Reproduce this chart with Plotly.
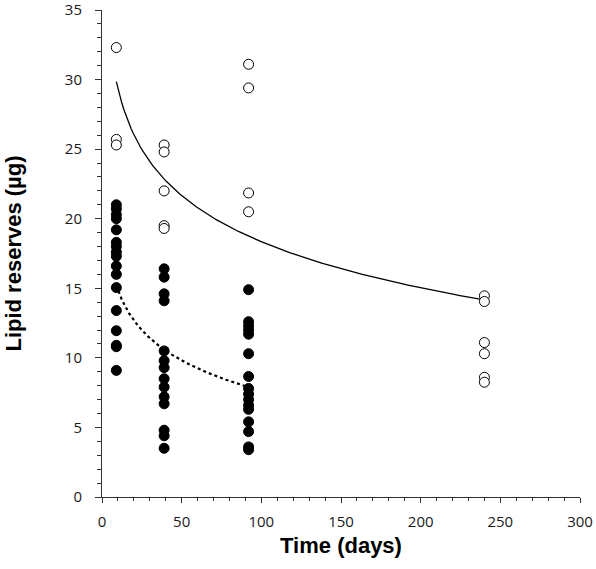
import numpy as np
import plotly.graph_objects as go

# Values
open_9 = [32.3, 25.7, 25.3]
open_39 = [25.3, 24.8, 22.0, 19.5, 19.3]
open_92 = [31.1, 29.4, 21.85, 20.5]
open_240 = [14.46, 14.05, 11.1, 10.3, 8.6, 8.25]

filled_9 = [21.0, 20.7, 20.3, 20.0, 19.2, 18.3, 18.0, 17.6, 17.3, 16.6, 16.0,
            15.05, 13.4, 11.95, 10.9, 10.8, 9.1]
filled_39 = [16.4, 15.8, 14.6, 14.1, 10.5, 9.8, 9.3, 8.5, 7.9, 7.2, 6.7, 4.8,
             4.4, 3.5]
filled_92 = [14.9, 12.6, 12.3, 12.0, 11.7, 10.3, 8.66, 7.8, 7.4, 7.0, 6.6, 6.3,
             5.4, 4.7, 3.6, 3.4]

x_ticks = [0, 50, 100, 150, 200, 250, 300]
y_ticks = [0, 5, 10, 15, 20, 25, 30, 35]

# Logarithmic trendlines y = a + b*ln(x)
trend_open = dict(a=40.36, b=-4.78, x_start=9, x_end=240)
trend_filled = dict(a=22.1, b=-3.14, x_start=9, x_end=92)

open_x = [9] * len(open_9) + [39] * len(open_39) + [92] * len(open_92) + [240] * len(open_240)
open_y = open_9 + open_39 + open_92 + open_240
filled_x = [9] * len(filled_9) + [39] * len(filled_39) + [92] * len(filled_92)
filled_y = filled_9 + filled_39 + filled_92


def trend(t):
    xs = np.linspace(t["x_start"], t["x_end"], 200)
    return xs, t["a"] + t["b"] * np.log(xs)


fig = go.Figure()
tx, ty = trend(trend_open)
fig.add_trace(go.Scatter(x=tx, y=ty, mode="lines",
                         line=dict(color="black", width=1.3), showlegend=False))
tx2, ty2 = trend(trend_filled)
fig.add_trace(go.Scatter(x=tx2, y=ty2, mode="lines",
                         line=dict(color="black", width=2.2, dash="dot"), showlegend=False))
fig.add_trace(go.Scatter(x=filled_x, y=filled_y, mode="markers",
                         marker=dict(symbol="circle", size=10, color="black",
                                     line=dict(color="black", width=1)),
                         showlegend=False))
fig.add_trace(go.Scatter(x=open_x, y=open_y, mode="markers",
                         marker=dict(symbol="circle", size=10, color="white",
                                     line=dict(color="black", width=1)),
                         showlegend=False))

fig.update_layout(
    width=596, height=569,
    margin=dict(l=102, r=16, t=10, b=72, autoexpand=False),
    plot_bgcolor="white", paper_bgcolor="white",
    font=dict(family="Open Sans", size=15, color="#1a1a1a"),
)
fig.update_xaxes(
    range=[0, 300], tickvals=x_ticks, automargin=False, ticklabeloverflow="allow",
    ticklabelstandoff=6,
    showgrid=False, zeroline=False, showline=True, linecolor="#333", linewidth=1,
    ticks="outside", ticklen=5, tickcolor="#333", tickwidth=1,
    minor=dict(dtick=10, ticks="outside", ticklen=3, tickcolor="#333", showgrid=False),
    title=dict(text="<b>Time (days)</b>", font=dict(family="Liberation Sans", size=22, color="black"), standoff=7),
)
fig.update_yaxes(
    range=[0, 35], tickvals=y_ticks, automargin=False, ticklabeloverflow="allow",
    ticklabelstandoff=10,
    showgrid=False, zeroline=False, showline=True, linecolor="#333", linewidth=1,
    ticks="outside", ticklen=6, tickcolor="#333", tickwidth=1,
    minor=dict(dtick=1, ticks="outside", ticklen=4, tickcolor="#333", showgrid=False),
    title=dict(text="<b>Lipid reserves (µg)</b>", font=dict(family="Liberation Sans", size=22, color="black"), standoff=37),
)

fig.write_html("out.html", config={"displayModeBar": False},
               post_script="document.body.style.margin='0px';")
